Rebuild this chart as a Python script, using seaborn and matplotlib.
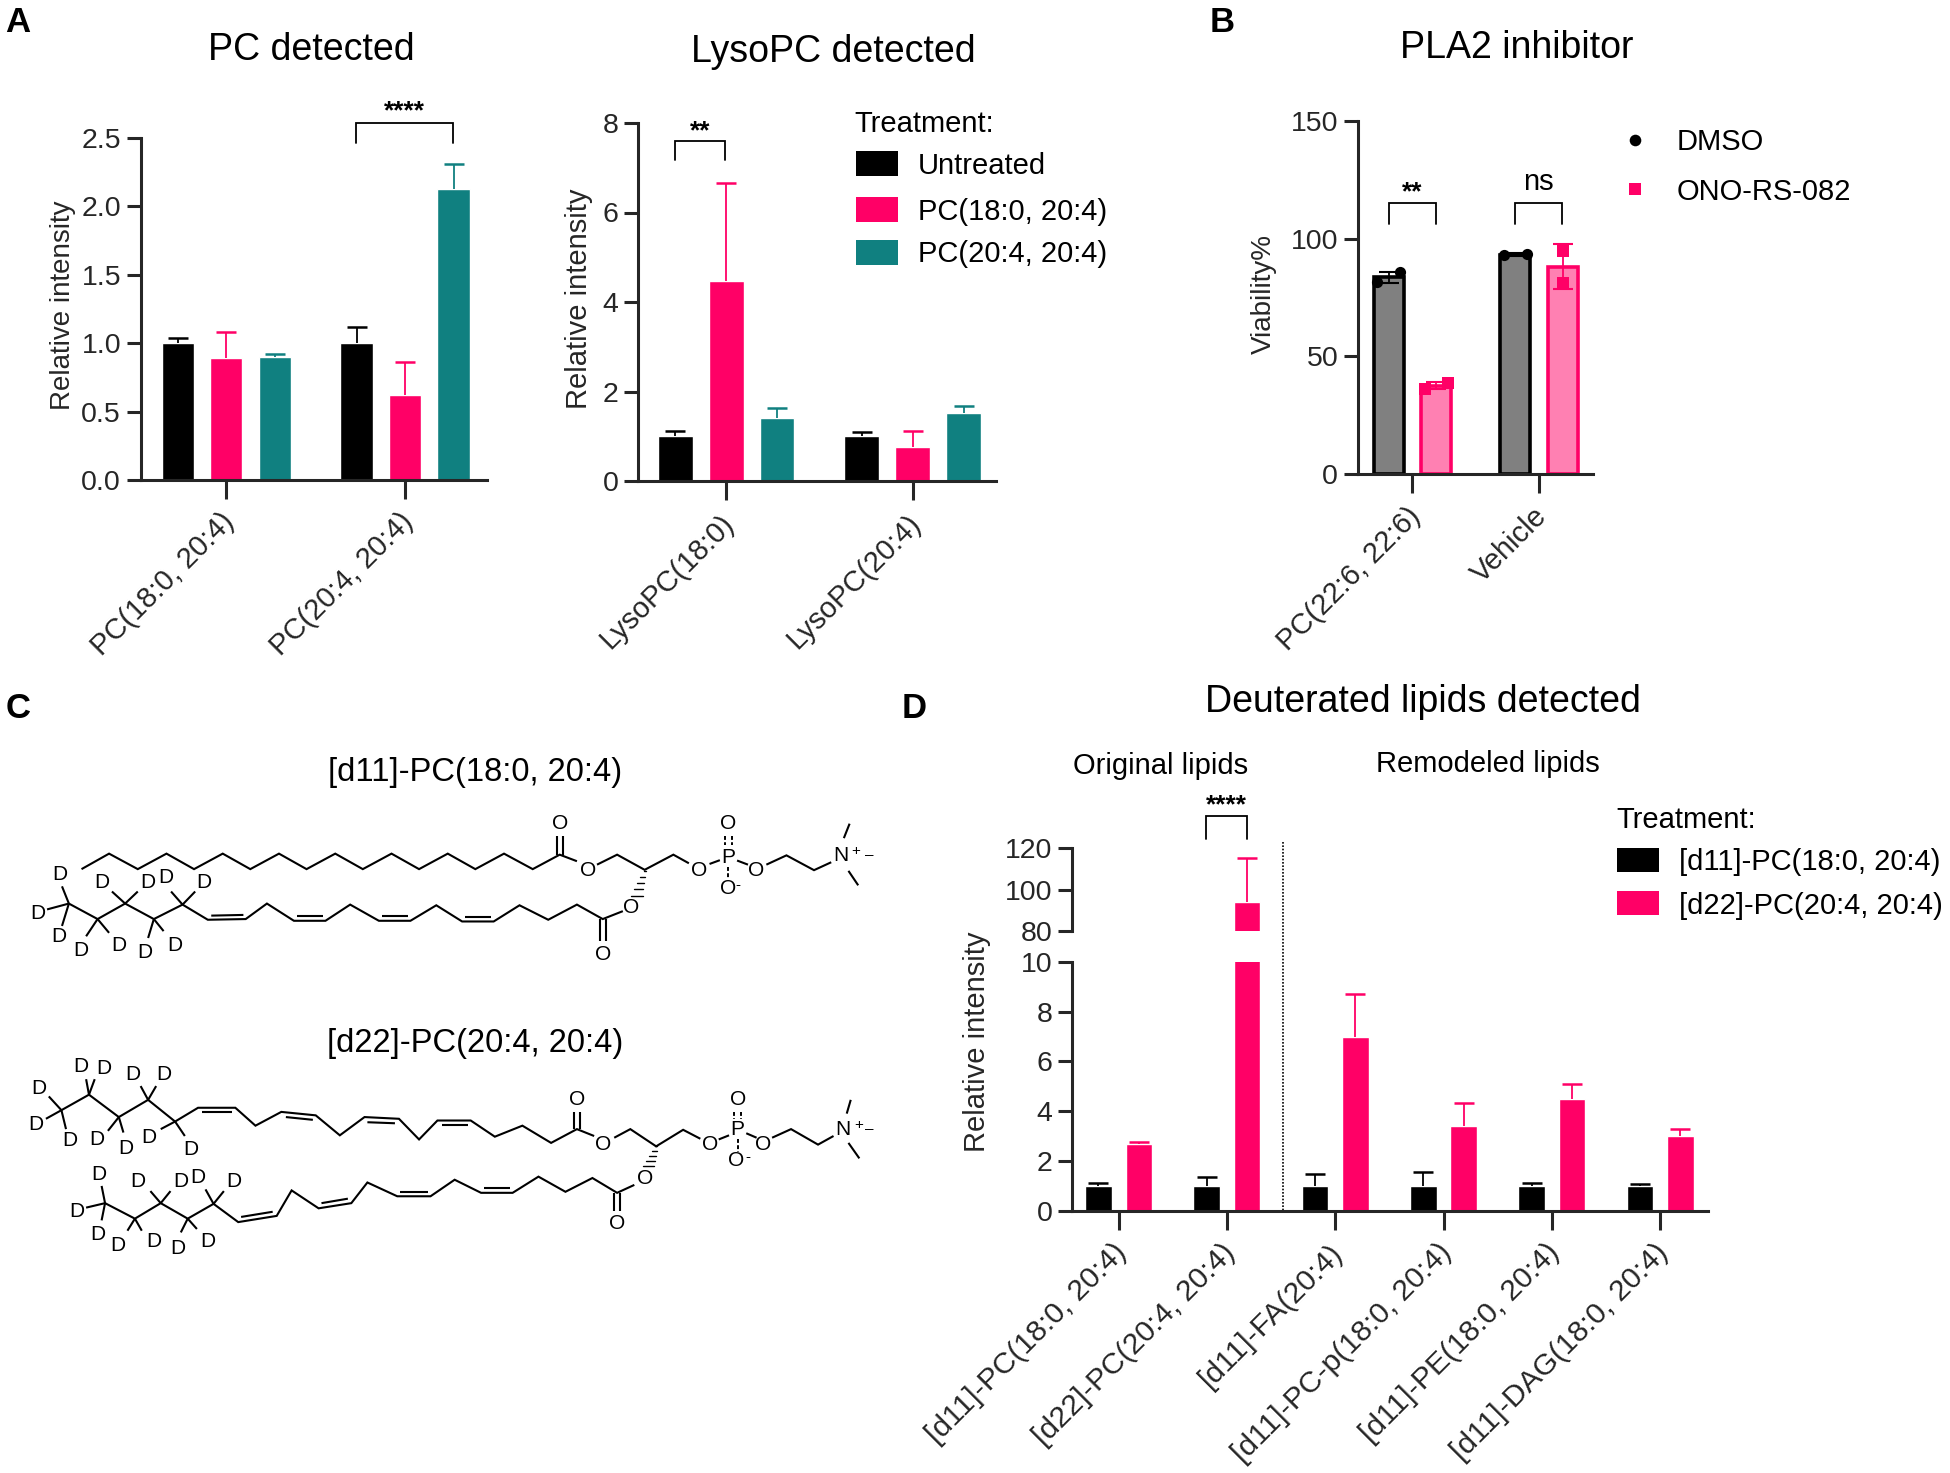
import numpy as np
import pandas as pd
import matplotlib
matplotlib.use("Agg")
import matplotlib.pyplot as plt
from matplotlib.patches import Rectangle
from matplotlib.transforms import ScaledTranslation
import seaborn as sns

# colours
BLACK = "#000000"
PINK = "#FF0066"
TEAL = "#108080"
GREY_FILL = "#808080"
PINK_FILL = "#FF80B2"

# panel A, PC detected
pc_lipids = ["PC(18:0, 20:4)", "PC(20:4, 20:4)"]
treatments = ["Untreated", "PC(18:0, 20:4)", "PC(20:4, 20:4)"]
pc_untreated = [1.0, 1.0]
pc_18_0 = [0.89, 0.62]
pc_20_4 = [0.90, 2.13]
pc_untreated_top = [1.04, 1.12]
pc_18_0_top = [1.08, 0.86]
pc_20_4_top = [0.92, 2.31]

# panel A, LysoPC detected
lyso_lipids = ["LysoPC(18:0)", "LysoPC(20:4)"]
lyso_untreated = [1.0, 1.0]
lyso_18_0 = [4.47, 0.77]
lyso_20_4 = [1.40, 1.53]
lyso_untreated_top = [1.12, 1.10]
lyso_18_0_top = [6.67, 1.12]
lyso_20_4_top = [1.63, 1.67]

# panel B
pla2_groups = ["PC(22:6, 22:6)", "Vehicle"]
pla2_treatments = ["DMSO", "ONO-RS-082"]
dmso_points = [[81.4, 85.7], [93.0, 93.5]]
ono_points = [[36.0, 38.6], [94.6, 81.3]]
dmso_mean = [83.5, 93.2]
ono_mean = [37.5, 88.0]
dmso_err = [2.5, 0.5]
ono_err = [1.5, 9.5]

# panel D
d_lipids = ["[d11]-PC(18:0, 20:4)", "[d22]-PC(20:4, 20:4)", "[d11]-FA(20:4)",
            "[d11]-PC-p(18:0, 20:4)", "[d11]-PE(18:0, 20:4)", "[d11]-DAG(18:0, 20:4)"]
d_treatments = ["[d11]-PC(18:0, 20:4)", "[d22]-PC(20:4, 20:4)"]
d11_values = [1.0, 1.0, 1.0, 1.0, 1.0, 1.0]
d22_values = [2.7, 94.0, 7.0, 3.4, 4.5, 3.0]
d11_top = [1.10, 1.37, 1.47, 1.55, 1.10, 1.06]
d22_top = [2.75, 115.0, 8.7, 4.32, 5.09, 3.28]

sns.set_theme(style="ticks")
plt.rcParams["font.family"] = ["Liberation Sans", "DejaVu Sans"]
plt.rcParams["axes.linewidth"] = 2.2

TICK_FS = 21
TITLE_FS = 27
W, H = 1950, 1473

fig = plt.figure(figsize=(W / 100, H / 100), dpi=100, facecolor="white")


def panel_axes(left, top, right, bottom):
    return fig.add_axes([left / W, 1 - bottom / H, (right - left) / W, (bottom - top) / H])


def long_table(cats, hues, series):
    rows = []
    for hue, vals in zip(hues, series):
        for cat, val in zip(cats, vals):
            rows.append({"cat": cat, "hue": hue, "value": val})
    return pd.DataFrame(rows)


def bars(ax, cats, hues, series, colors, width, gap):
    df = long_table(cats, hues, series)
    sns.barplot(data=df, x="cat", y="value", hue="hue", order=cats, hue_order=hues,
                palette=colors, saturation=1, width=width, gap=gap, errorbar=None,
                legend=False, ax=ax)
    ax.set_xlabel("")
    ax.set_ylabel("")


def upper_errors(ax, means, tops, colors):
    for cont, m, t, c in zip(ax.containers, means, tops, colors):
        xs = [b.get_x() + b.get_width() / 2 for b in cont]
        up = np.array(t) - np.array(m)
        eb = ax.errorbar(xs, m, yerr=[np.zeros(len(up)), up], fmt="none", ecolor=c,
                         elinewidth=1.3, capsize=7, capthick=1.8, zorder=3)
        # upper caps only
        eb[1][0].set_visible(False)


def style(ax, xlim, ylim, yticks, labels=None, ylabel=None, label_x=None, label_fs=20, x_fs=TICK_FS):
    ax.set_xlim(*xlim)
    ax.set_ylim(*ylim)
    ax.set_yticks(yticks)
    ax.tick_params(axis="y", length=10, width=2.2, labelsize=TICK_FS - 0.5, pad=4)
    ax.tick_params(axis="x", length=14, width=2.2, labelsize=x_fs, pad=6)
    if labels is not None:
        ax.set_xticks(range(len(labels)))
        ax.set_xticklabels(labels, rotation=45, ha="right", rotation_mode="anchor")
        shift = ScaledTranslation(-4.5 / 72, 0, fig.dpi_scale_trans)
        for lab in ax.get_xticklabels():
            lab.set_transform(lab.get_transform() + shift)
    if ylabel:
        ax.set_ylabel(ylabel, fontsize=label_fs)
        ax.yaxis.set_label_coords(label_x, 0.51)
    sns.despine(ax=ax)


# A left
ax1 = panel_axes(140.5, 138, 487, 480)
pc_colors = [BLACK, PINK, TEAL]
bars(ax1, pc_lipids, treatments, [pc_untreated, pc_18_0, pc_20_4], pc_colors, 0.813, 0.336)
upper_errors(ax1, [pc_untreated, pc_18_0, pc_20_4],
             [pc_untreated_top, pc_18_0_top, pc_20_4_top], pc_colors)
style(ax1, (-0.479, 1.458), (0, 2.5), [0, 0.5, 1.0, 1.5, 2.0, 2.5], pc_lipids,
      "Relative intensity", -0.185)
ax1.set_yticklabels(["0.0", "0.5", "1.0", "1.5", "2.0", "2.5"])

# A right
ax2 = panel_axes(638, 123, 996, 481)
bars(ax2, lyso_lipids, treatments, [lyso_untreated, lyso_18_0, lyso_20_4], pc_colors, 0.82, 0.32)
upper_errors(ax2, [lyso_untreated, lyso_18_0, lyso_20_4],
             [lyso_untreated_top, lyso_18_0_top, lyso_20_4_top], pc_colors)
style(ax2, (-0.473, 1.447), (0, 8), [0, 2, 4, 6, 8], lyso_lipids, "Relative intensity", -0.125, 21)

# B
ax3 = panel_axes(1357.6, 120.7, 1593, 474.3)
bars(ax3, pla2_groups, pla2_treatments, [dmso_mean, ono_mean], [GREY_FILL, PINK_FILL], 0.75, 0.368)
for cont, edge in zip(ax3.containers, [BLACK, PINK]):
    for b in cont:
        b.set_edgecolor(edge)
        b.set_linewidth(2.6)
spread = [[-0.09, 0.09], [-0.09, 0.09]], [[-0.09, 0.09], [0.0, 0.0]]
for cont, pts, means, errs, sp, c, mk in zip(ax3.containers, [dmso_points, ono_points],
                                             [dmso_mean, ono_mean], [dmso_err, ono_err],
                                             spread, [BLACK, PINK], ["o", "s"]):
    for b, p, m, e, s in zip(cont, pts, means, errs, sp):
        xc = b.get_x() + b.get_width() / 2
        ax3.errorbar([xc], [m], yerr=[e], fmt="none", ecolor=c, elinewidth=1.3,
                     capsize=7, capthick=1.5, zorder=4)
        ax3.scatter(np.array(s) + xc, p, color=c, marker=mk, s=65, zorder=5, linewidths=0)
style(ax3, (-0.434, 1.427), (0, 150), [0, 50, 100, 150], pla2_groups, "Viability%", -0.345)

# D, broken axis
d_colors = [BLACK, PINK]
ax4 = panel_axes(1072, 962, 1707.5, 1210.7)
ax5 = panel_axes(1072, 848, 1707.5, 931.3)
for ax in (ax4, ax5):
    bars(ax, d_lipids, d_treatments, [d11_values, d22_values], d_colors, 0.748, 0.345)
    upper_errors(ax, [d11_values, d22_values], [d11_top, d22_top], d_colors)
style(ax4, (-0.431, 5.438), (0, 10), [0, 2, 4, 6, 8, 10], d_lipids, x_fs=21.7)
style(ax5, (-0.431, 5.438), (80, 120), [80, 100, 120])
ax5.spines["bottom"].set_visible(False)
ax5.set_xticks([])
ax4.set_ylabel("Relative intensity", fontsize=21)
ax4.yaxis.set_label_coords(-0.128, 0.68)

# everything else in figure pixels
ov = fig.add_axes([0, 0, 1, 1], zorder=10)
ov.set_xlim(0, W)
ov.set_ylim(H, 0)
ov.axis("off")
ov.patch.set_alpha(0)


def txt(x, y, s, fs=TICK_FS, ha="center", dy=2.5, **kw):
    ov.text(x, y + dy, s, fontsize=fs, ha=ha, va="center", color="black", **kw)


def bracket(x0, x1, top, low, label, label_y, fs=19):
    ov.plot([x0, x0, x1, x1], [low, top, top, low], color="black", lw=1.3, solid_joinstyle="miter")
    txt((x0 + x1) / 2, label_y, label, fs=fs, dy=0, fontweight="bold" if "*" in label else "normal")


for x, y, s in [(18, 22, "A"), (1222, 22, "B"), (18, 709, "C"), (914, 709, "D")]:
    txt(x, y, s, fs=25, dy=0, fontweight="bold")

txt(311, 47, "PC detected", fs=TITLE_FS)
txt(833, 50, "LysoPC detected", fs=TITLE_FS)
txt(1517, 46, "PLA2 inhibitor", fs=TITLE_FS)
txt(1423, 700, "Deuterated lipids detected", fs=TITLE_FS)
txt(1161, 764, "Original lipids")
txt(1488, 761, "Remodeled lipids")

bracket(356, 453, 123, 143, "****", 111)
bracket(675, 725, 141, 160, "**", 131)
bracket(1389, 1436, 203, 224, "**", 192)
bracket(1515, 1562, 203, 224, "ns", 182, fs=TICK_FS)
bracket(1206, 1247, 816, 839, "****", 805)

ov.plot([1283, 1283], [842, 1210], color="black", lw=1.2, ls=(0, (1, 1)))

# legends
txt(854, 122, "Treatment:", ha="left")
for y, c, s in zip([163, 209, 252], pc_colors, treatments):
    ov.add_patch(Rectangle((856, y - 12.5), 42, 25, color=c, lw=0))
    txt(918, y, s, ha="left")
txt(1616, 817, "Treatment:", ha="left")
for y, c, s in zip([860, 903], d_colors, d_treatments):
    ov.add_patch(Rectangle((1617, y - 12), 42, 24, color=c, lw=0))
    txt(1679, y, s, ha="left")
ov.scatter([1635], [140], color=BLACK, marker="o", s=70, linewidths=0)
ov.scatter([1635], [189], color=PINK, marker="s", s=70, linewidths=0)
txt(1677, 140, pla2_treatments[0], ha="left")
txt(1677, 189, pla2_treatments[1], ha="left")

# structures, traced in crop coordinates of the lipid drawing
txt(475, 770, "[d11]-PC(18:0, 20:4)", fs=23.5)
txt(475, 1041, "[d22]-PC(20:4, 20:4)", fs=23.5)

d11_lines = [
    [(142, 375), (190, 330), (240, 375), (290, 330), (338, 375), (388, 330), (436, 375), (486, 330),
     (534, 375), (584, 330), (632, 375), (682, 330), (730, 375), (780, 330), (828, 375), (878, 330),
     (928, 375), (975, 333), (1005, 352)],
    [(1040, 362), (1075, 333), (1123, 377), (1173, 333), (1200, 358)],
    [(970, 333), (970, 280)], [(980, 333), (980, 280)],
    [(120, 475), (170, 520), (218, 475), (268, 520), (318, 478), (362, 522), (428, 520), (465, 475),
     (512, 525), (567, 525), (610, 478), (660, 525), (715, 525), (760, 480), (805, 527), (860, 527),
     (905, 480), (955, 522), (1005, 478), (1050, 520), (1085, 497)],
    [(368, 510), (424, 508)], [(518, 512), (562, 512)], [(665, 512), (710, 512)], [(810, 514), (855, 514)],
    [(1045, 520), (1045, 585)], [(1055, 520), (1055, 585)],
    [(120, 475), (108, 425)], [(120, 475), (82, 492)], [(120, 475), (108, 540)],
    [(170, 520), (150, 570)], [(170, 520), (190, 560)], [(218, 475), (195, 440)], [(218, 475), (240, 440)],
    [(268, 520), (258, 575)], [(268, 520), (285, 555)], [(318, 478), (298, 440)], [(318, 478), (340, 440)],
    [(1335, 362), (1370, 335), (1418, 378), (1448, 355)],
    [(1470, 285), (1480, 243)], [(1478, 380), (1495, 422)],
    [(1236, 360), (1254, 349)], [(1284, 350), (1303, 362)],
]
d11_dashes = [[(1263, 280), (1263, 305)], [(1275, 280), (1275, 305)], [(1268, 368), (1268, 402)]]
d11_wedge = [(1108, 460), (1123, 380)]
d11_atoms = [(975, 243, "O"), (1024, 380, "O"), (1100, 485, "O"), (1050, 622, "O"), (1218, 380, "O"),
             (1268, 340, "P"), (1268, 243, "O"), (1268, 430, "O"), (1318, 380, "O"), (1465, 335, "N")]
d11_deut = [(105, 392), (65, 505), (103, 572), (140, 610), (207, 597), (252, 618), (305, 597),
            (177, 415), (258, 415), (288, 400), (355, 415)]

d22_lines = [
    [(107, 1075), (155, 1030), (207, 1095), (258, 1045), (305, 1108), (345, 1068), (410, 1068), (445, 1120),
     (490, 1080), (550, 1090), (592, 1148), (635, 1095), (695, 1100), (730, 1160), (762, 1105), (820, 1105),
     (862, 1152), (910, 1120), (960, 1170), (1005, 1130), (1035, 1150)],
    [(1070, 1155), (1098, 1130), (1143, 1180), (1190, 1132), (1220, 1158)],
    [(1000, 1130), (1000, 1080)], [(1010, 1130), (1010, 1080)],
    [(352, 1080), (405, 1080)], [(498, 1095), (545, 1103)], [(640, 1110), (688, 1113)], [(770, 1118), (815, 1118)],
    [(107, 1075), (85, 1035)], [(107, 1075), (80, 1100)], [(107, 1075), (115, 1130)],
    [(155, 1030), (150, 985)], [(155, 1030), (165, 985)], [(207, 1095), (188, 1135)], [(207, 1095), (215, 1140)],
    [(258, 1045), (245, 1005)], [(258, 1045), (272, 1005)], [(305, 1108), (280, 1130)], [(305, 1108), (322, 1150)],
    [(183, 1345), (235, 1390), (280, 1345), (327, 1390), (372, 1347), (415, 1400), (482, 1382), (508, 1308),
     (555, 1360), (612, 1345), (640, 1285), (692, 1325), (750, 1325), (792, 1277), (838, 1315), (893, 1315),
     (938, 1268), (985, 1312), (1032, 1272), (1075, 1315), (1105, 1292)],
    [(420, 1385), (475, 1370)], [(560, 1345), (606, 1332)], [(697, 1312), (745, 1312)], [(843, 1302), (888, 1302)],
    [(1070, 1315), (1070, 1368)], [(1080, 1315), (1080, 1368)],
    [(183, 1345), (177, 1295)], [(183, 1345), (150, 1358)], [(183, 1345), (177, 1395)],
    [(235, 1390), (222, 1425)], [(235, 1390), (247, 1425)], [(280, 1345), (262, 1310)], [(280, 1345), (297, 1310)],
    [(327, 1390), (315, 1430)], [(327, 1390), (343, 1420)], [(372, 1347), (358, 1305)], [(372, 1347), (390, 1310)],
    [(1345, 1155), (1378, 1130), (1425, 1175), (1452, 1150)],
    [(1475, 1085), (1482, 1045)], [(1478, 1170), (1497, 1215)],
    [(1252, 1160), (1270, 1148)], [(1300, 1142), (1318, 1155)],
]
d22_dashes = [[(1279, 1080), (1279, 1102)], [(1291, 1080), (1291, 1102)], [(1285, 1158), (1285, 1195)]]
d22_wedge = [(1128, 1245), (1143, 1180)]
d22_atoms = [(1005, 1043, "O"), (1050, 1175, "O"), (1237, 1175, "O"), (1285, 1130, "P"), (1285, 1043, "O"),
             (1283, 1222, "O"), (1330, 1175, "O"), (1468, 1130, "N"), (1123, 1272, "O"), (1075, 1405, "O")]
d22_deut = [(68, 1012), (62, 1118), (122, 1162), (140, 948), (180, 953), (168, 1160), (220, 1185), (232, 972),
            (285, 972), (260, 1155), (333, 1190), (172, 1262), (133, 1370), (170, 1437), (205, 1468), (268, 1455),
            (240, 1283), (315, 1283), (310, 1478), (362, 1455), (345, 1270), (408, 1283)]


def sx(x):
    return x / 1.742


def sy(y):
    return 740 + y / 2.904


def draw_structure(lines, dashes, wedge, atoms, deut):
    for pts in lines:
        ov.plot([sx(p[0]) for p in pts], [sy(p[1]) for p in pts], color="black", lw=1.5,
                solid_joinstyle="miter", solid_capstyle="butt")
    for pts in dashes:
        ov.plot([sx(p[0]) for p in pts], [sy(p[1]) for p in pts], color="black", lw=1.4,
                ls=(0, (2, 1.2)))
    (x0, y0), (x1, y1) = wedge
    for f in np.linspace(0.1, 1, 5):
        half = 2 + 9 * (1 - f)
        ov.plot([sx(x0 + (x1 - x0) * f - half), sx(x0 + (x1 - x0) * f + half)],
                [sy(y0 + (y1 - y0) * f)] * 2, color="black", lw=1.0)
    for x, y, s in atoms:
        txt(sx(x), sy(y), s, fs=15, dy=0)
    for x, y in deut:
        txt(sx(x), sy(y), "D", fs=15, dy=0)


draw_structure(d11_lines, d11_dashes, d11_wedge, d11_atoms, d11_deut)
draw_structure(d22_lines, d22_dashes, d22_wedge, d22_atoms, d22_deut)

# charges
for x, y, s in [(1490, 322, "+"), (1515, 333, "–"), (1285, 420, "-"),
                (1495, 1118, "+"), (1515, 1130, "–"), (1302, 1212, "-")]:
    txt(sx(x), sy(y), s, fs=11, dy=0)

fig.savefig("out.png", dpi=100, facecolor="white")
